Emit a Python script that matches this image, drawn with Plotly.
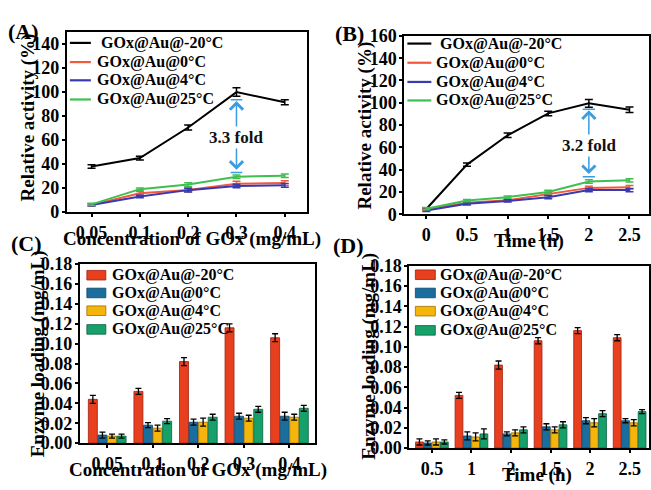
import plotly.graph_objects as go

# ---------------- data ----------------
series_names = ["GOx@Au@-20°C", "GOx@Au@0°C", "GOx@Au@4°C", "GOx@Au@25°C"]

conc_labels = ["0.05", "0.1", "0.2", "0.3", "0.4"]
a_m20 = [38, 45, 70.5, 100, 91.5]
a_m20_err = [1.5, 1.5, 2, 3.5, 2]
a_0 = [6, 15.7, 18.5, 23.7, 24.2]
a_0_err = [1, 1.5, 1.5, 2, 2]
a_4 = [6, 13, 18.3, 21.8, 22.3]
a_4_err = [1, 1, 1.5, 1.5, 1.5]
a_25 = [6.4, 19.1, 22.9, 29.5, 30.3]
a_25_err = [1, 1, 1.5, 1.5, 1.5]

time_vals = [0, 0.5, 1, 1.5, 2, 2.5]
time_labels = ["0", "0.5", "1", "1.5", "2", "2.5"]
b_m20 = [4.8, 44.6, 70.9, 90.5, 99.5, 93.7]
b_m20_err = [1, 1.5, 2, 2, 3.5, 2.5]
b_0 = [4.5, 10.3, 12.5, 18.3, 23.7, 24.3]
b_0_err = [1, 1, 1, 1.5, 1.5, 1.5]
b_4 = [3.5, 9.4, 12, 15.4, 21.7, 21.7]
b_4_err = [1, 1, 1, 1.5, 1.5, 1.5]
b_25 = [5, 12.3, 15.4, 20, 29.4, 30.5]
b_25_err = [1, 1, 1, 1.5, 1.5, 1.5]

c_m20 = [0.044, 0.052, 0.082, 0.116, 0.106]
c_m20_err = [0.004, 0.003, 0.004, 0.004, 0.004]
c_0 = [0.008, 0.018, 0.021, 0.027, 0.027]
c_0_err = [0.003, 0.0025, 0.003, 0.003, 0.004]
c_4 = [0.007, 0.015, 0.021, 0.025, 0.026]
c_4_err = [0.002, 0.003, 0.004, 0.003, 0.003]
c_25 = [0.007, 0.022, 0.026, 0.034, 0.035]
c_25_err = [0.002, 0.0025, 0.003, 0.003, 0.003]

d_labels = ["0.5", "1", "2", "1.5", "2", "2.5"]
d_m20 = [0.006, 0.052, 0.082, 0.106, 0.116, 0.109]
d_m20_err = [0.003, 0.003, 0.004, 0.003, 0.003, 0.003]
d_0 = [0.005, 0.012, 0.014, 0.021, 0.027, 0.027]
d_0_err = [0.002, 0.004, 0.002, 0.003, 0.003, 0.002]
d_4 = [0.006, 0.011, 0.015, 0.018, 0.025, 0.025]
d_4_err = [0.003, 0.004, 0.003, 0.003, 0.004, 0.003]
d_25 = [0.006, 0.014, 0.018, 0.023, 0.034, 0.036]
d_25_err = [0.002, 0.005, 0.003, 0.003, 0.003, 0.002]

fold_a = "3.3 fold"
fold_b = "3.2 fold"

# ---------------- styles ----------------
FONT = "Liberation Serif"
W, H = 651, 490
line_colors = ["#000000", "#f2583a", "#3a3ab0", "#3ec050"]
bar_colors = ["#e8401f", "#1a6e9e", "#f5b50a", "#16a06a"]
bar_edges = ["#a02010", "#0e4466", "#a07000", "#0c6040"]
arrow_color = "#3d9be0"


def px(x):
    return x / W


def py(y):
    return 1 - y / H


fig = go.Figure()

for i, (vals, errs) in enumerate([(a_m20, a_m20_err), (a_0, a_0_err), (a_4, a_4_err), (a_25, a_25_err)]):
    fig.add_trace(go.Scatter(
        x=conc_labels, y=vals, mode="lines", name=series_names[i], showlegend=False,
        line=dict(color=line_colors[i], width=2),
        error_y=dict(type="data", array=errs, color=line_colors[i], thickness=1.5, width=4),
        xaxis="x", yaxis="y"))

for i, (vals, errs) in enumerate([(b_m20, b_m20_err), (b_0, b_0_err), (b_4, b_4_err), (b_25, b_25_err)]):
    fig.add_trace(go.Scatter(
        x=time_vals, y=vals, mode="lines", name=series_names[i], showlegend=False,
        line=dict(color=line_colors[i], width=2),
        error_y=dict(type="data", array=errs, color=line_colors[i], thickness=1.5, width=4),
        xaxis="x2", yaxis="y2"))

for i, (vals, errs) in enumerate([(c_m20, c_m20_err), (c_0, c_0_err), (c_4, c_4_err), (c_25, c_25_err)]):
    fig.add_trace(go.Bar(
        x=conc_labels, y=vals, name=series_names[i], showlegend=False,
        marker=dict(color=bar_colors[i], line=dict(color=bar_edges[i], width=0.8)),
        error_y=dict(type="data", array=errs, color="black", thickness=1.3, width=3),
        xaxis="x3", yaxis="y3"))

d_pos = list(range(len(d_labels)))
for i, (vals, errs) in enumerate([(d_m20, d_m20_err), (d_0, d_0_err), (d_4, d_4_err), (d_25, d_25_err)]):
    fig.add_trace(go.Bar(
        x=d_pos, y=vals, name=series_names[i], showlegend=False,
        marker=dict(color=bar_colors[i], line=dict(color=bar_edges[i], width=0.8)),
        error_y=dict(type="data", array=errs, color="black", thickness=1.3, width=3),
        xaxis="x4", yaxis="y4"))

tick_font = dict(family=FONT, size=18, color="black", weight="bold")
axis_common = dict(showline=True, linecolor="black", linewidth=2, mirror=True,
                   ticks="outside", ticklen=3, tickwidth=1.5, tickcolor="black",
                   showgrid=False, zeroline=False, tickfont=tick_font)
xaxis_common = dict(axis_common, ticklabelstandoff=0)
yaxis_common = dict(axis_common, ticklabelstandoff=-1)

fig.update_layout(
    width=W, height=H, margin=dict(l=0, r=0, t=0, b=0),
    paper_bgcolor="white", plot_bgcolor="white",
    font=dict(family=FONT, color="black", weight="bold"),
    showlegend=False,
    barmode="group", bargap=0.16, bargroupgap=0.06,
    xaxis=dict(xaxis_common, domain=[px(67), px(307)], anchor="y", type="category",
               range=[-0.51, 4.45]),
    yaxis=dict(yaxis_common, domain=[py(210.7), py(23)], anchor="x", range=[0, 150],
               tickvals=[0, 20, 40, 60, 80, 100, 120, 140]),
    xaxis2=dict(xaxis_common, domain=[px(405), px(650)], anchor="y2",
                range=[-0.27, 2.74], tickvals=time_vals, ticktext=time_labels),
    yaxis2=dict(yaxis_common, domain=[py(213), py(27)], anchor="x2", range=[0, 160],
                dtick=20),
    xaxis3=dict(xaxis_common, domain=[px(80), px(315)], anchor="y3", type="category",
                range=[-0.6, 4.55]),
    yaxis3=dict(yaxis_common, domain=[py(451.5), py(265)], anchor="x3", range=[0, 0.18],
                dtick=0.02, tickformat=".2f"),
    xaxis4=dict(xaxis_common, domain=[px(410), px(650)], anchor="y4",
                range=[-0.57, 5.49], tickvals=d_pos, ticktext=d_labels),
    yaxis4=dict(yaxis_common, domain=[py(456.7), py(266.7)], anchor="x4", range=[0, 0.18],
                dtick=0.02, tickformat=".2f"),
)

title_font = dict(family=FONT, size=19, color="black", weight="bold")
label_font = dict(family=FONT, size=22, color="black", weight="bold")
legend_font = dict(family=FONT, size=16, color="black", weight="bold")
annotations = [
    dict(text="Relative activity (%)", x=px(28), y=py(112), textangle=-90, font=title_font),
    dict(text="Concentration of GOx (mg/mL)", x=px(192), y=py(239), font=title_font),
    dict(text="Relative activity (%)", x=px(366), y=py(120), textangle=-90, font=title_font),
    dict(text="Time (h)", x=px(530), y=py(241), font=title_font),
    dict(text="Enzyme loading (mg/mL)", x=px(38), y=py(358), textangle=-90, font=title_font),
    dict(text="Concentration of GOx (mg/mL)", x=px(198), y=py(480), font=title_font),
    dict(text="Enzyme loading (mg/mL)", x=px(370), y=py(361), textangle=-90, font=title_font),
    dict(text="Time (h)", x=px(538), y=py(485), font=title_font),
    dict(text="(A)", x=px(24), y=py(22), font=label_font),
    dict(text="(B)", x=px(350), y=py(25), font=label_font),
    dict(text="(C)", x=px(27), y=py(243), font=label_font),
    dict(text="(D)", x=px(349), y=py(246), font=label_font),
]
for a in annotations:
    a.update(xref="paper", yref="paper", showarrow=False, xanchor="center", yanchor="middle")

shapes = []

legend_specs = [
    ("line", 70, 91, 95, [34.3, 54.3, 73.3, 93.3]),
    ("line", 408, 432, 435, [35, 55, 75, 94.3]),
    ("box", 87, 106, 110, [276.5, 295, 313.5, 333]),
    ("box", 416, 436, 439, [276, 295, 314, 334]),
]
for kind, sx0, sx1, tx, rows in legend_specs:
    for i, yc in enumerate(rows):
        if kind == "line":
            shapes.append(dict(type="line", xref="paper", yref="paper",
                               x0=px(sx0), x1=px(sx1), y0=py(yc), y1=py(yc),
                               line=dict(color=line_colors[i], width=2.2)))
        else:
            shapes.append(dict(type="rect", xref="paper", yref="paper",
                               x0=px(sx0), x1=px(sx1), y0=py(yc + 5), y1=py(yc - 5),
                               fillcolor=bar_colors[i], line=dict(color=bar_edges[i], width=0.8)))
        text_x = tx + (4 if (i == 0 and kind == "line") else 0)
        annotations.append(dict(text=series_names[i], xref="paper", yref="paper",
                                x=px(text_x), y=py(yc), xanchor="left", yanchor="middle",
                                showarrow=False, font=legend_font))

ia = conc_labels.index("0.3")
ib = 2
fold_arrows = [
    dict(xref="x", yref="y", axref="x", ayref="y", x=ia, y=92.5, ax=ia, ay=34,
         cap_top=93.5, cap_bot=33, half=0.12, text=fold_a, ty=62),
    dict(xref="x2", yref="y2", axref="x2", ayref="y2", x=ib, y=93.3, ax=ib, ay=34.7,
         cap_top=94.3, cap_bot=33.7, half=0.075, text=fold_b, ty=62),
]
for fa in fold_arrows:
    annotations.append(dict(
        xref=fa["xref"], yref=fa["yref"], axref=fa["axref"], ayref=fa["ayref"],
        x=fa["x"], y=fa["y"], ax=fa["ax"], ay=fa["ay"], text="", showarrow=True,
        arrowhead=4, startarrowhead=4, arrowside="end+start", arrowsize=1.7,
        startarrowsize=1.7, arrowwidth=1.5, arrowcolor=arrow_color, standoff=0, startstandoff=0))
    annotations.append(dict(
        xref=fa["xref"], yref=fa["yref"], x=fa["x"], y=fa["ty"], text=fa["text"],
        showarrow=False, bgcolor="white",
        font=dict(family=FONT, size=17, color="#111111", weight="bold")))
    for yy in (fa["cap_top"], fa["cap_bot"]):
        shapes.append(dict(type="line", xref=fa["xref"], yref=fa["yref"],
                           x0=fa["x"] - fa["half"], x1=fa["x"] + fa["half"], y0=yy, y1=yy,
                           line=dict(color=arrow_color, width=1.5)))

fig.update_layout(annotations=annotations, shapes=shapes)

fig.write_html("out.html")
